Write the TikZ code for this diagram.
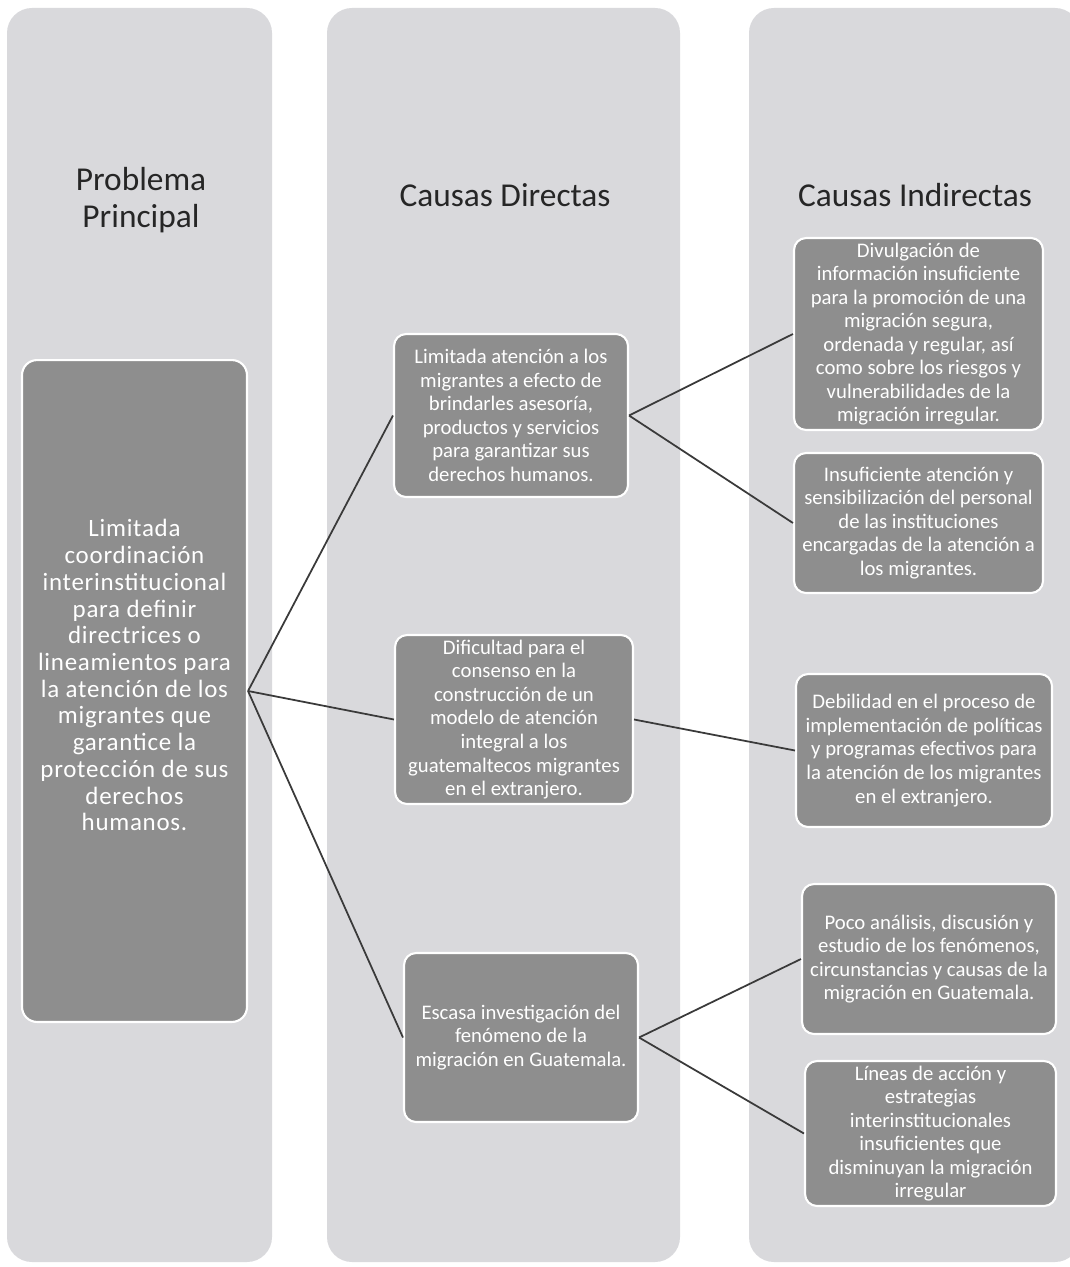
\documentclass[tikz,border=0pt]{standalone}
\usepackage{fontspec}
\setmainfont{Carlito}
\newfontfamily\widefont[LetterSpace=3]{Carlito}
\definecolor{colbg}{RGB}{217,217,220}
\definecolor{boxgray}{RGB}{142,142,142}
\definecolor{linegray}{RGB}{58,58,58}
\tikzset{column/.style={fill=colbg, rounded corners=0.5cm},
         heading/.style={font=\fontsize{19}{21}\selectfont, text=black!85, align=center},
         cause/.style={draw=white, line width=1.2pt, fill=boxgray, rounded corners=0.24cm, text=white, align=center, inner sep=2pt, font=\fontsize{11.8}{13.4}\selectfont},
         problem/.style={cause, rounded corners=0.3cm, text depth=18pt, font=\widefont\fontsize{14.2}{15.2}\selectfont},
         link/.style={draw=linegray, line width=1pt},
        }

\begin{document}
\begin{tikzpicture}[x=0.02cm, y=-0.02cm]
        \useasboundingbox (0,0) rectangle (1070,1267);
        \fill[white] (0,0) rectangle (1070,1267);

        \fill[column] (7,8) rectangle (272,1262);
        \fill[column] (327,8) rectangle (680,1262);
        \fill[column] (749,8) rectangle (1080,1262);

        \node[heading](hprob)at(141,200){Problema\\Principal};
        \node[heading, anchor=base](hdir)at(505,207){Causas Directas};
        \node[heading, anchor=base](hind)at(915,207){Causas Indirectas};

        \node[problem, minimum width=4.5cm, minimum height=13.24cm](prob)at(134.5,691){Limitada\\coordinación\\interinstitucional\\para definir\\directrices o\\lineamientos para\\la atención de los\\migrantes que\\garantice la\\protección de sus\\derechos\\humanos.};

        \node[cause, minimum width=4.68cm, minimum height=3.26cm](d1)at(511,415.5){Limitada atención a los\\migrantes a efecto de\\brindarles asesoría,\\productos y servicios\\para garantizar sus\\derechos humanos.};
        \node[cause, minimum width=4.76cm, minimum height=3.38cm](d2)at(514,719.5){Dificultad para el\\consenso en la\\construcción de un\\modelo de atención\\integral a los\\guatemaltecos migrantes\\en el extranjero.};
        \node[cause, minimum width=4.68cm, minimum height=3.38cm](d3)at(521,1037.5){Escasa investigación del\\fenómeno de la\\migración en Guatemala.};

        \node[cause, minimum width=4.98cm, minimum height=3.84cm](i1)at(918.5,334){Divulgación de\\información insuficiente\\para la promoción de una\\migración segura,\\ordenada y regular, así\\como sobre los riesgos y\\vulnerabilidades de la\\migración irregular.};
        \node[cause, minimum width=4.98cm, minimum height=2.8cm](i2)at(918.5,523){Insuficiente atención y\\sensibilización del personal\\de las instituciones\\encargadas de la atención a\\los migrantes.};
        \node[cause, minimum width=5.12cm, minimum height=3.06cm](i3)at(924,750.5){Debilidad en el proceso de\\implementación de políticas\\y programas efectivos para\\la atención de los migrantes\\en el extranjero.};
        \node[cause, minimum width=5.08cm, minimum height=3.0cm](i4)at(929,959){Poco análisis, discusión y\\estudio de los fenómenos,\\circunstancias y causas de la\\migración en Guatemala.};
        \node[cause, minimum width=5.02cm, minimum height=2.9cm](i5)at(930.5,1133.5){Líneas de acción y\\estrategias\\interinstitucionales\\insuficientes que\\disminuyan la migración\\irregular};

        \draw[link](prob.east)--(d1.west);
        \draw[link](prob.east)--(d2.west);
        \draw[link](prob.east)--(d3.west);

        \draw[link](d1.east)--(i1.west);
        \draw[link](d1.east)--(i2.west);
        \draw[link](d2.east)--(i3.west);
        \draw[link](d3.east)--(i4.west);
        \draw[link](d3.east)--(i5.west);
    \end{tikzpicture}
\end{document}
